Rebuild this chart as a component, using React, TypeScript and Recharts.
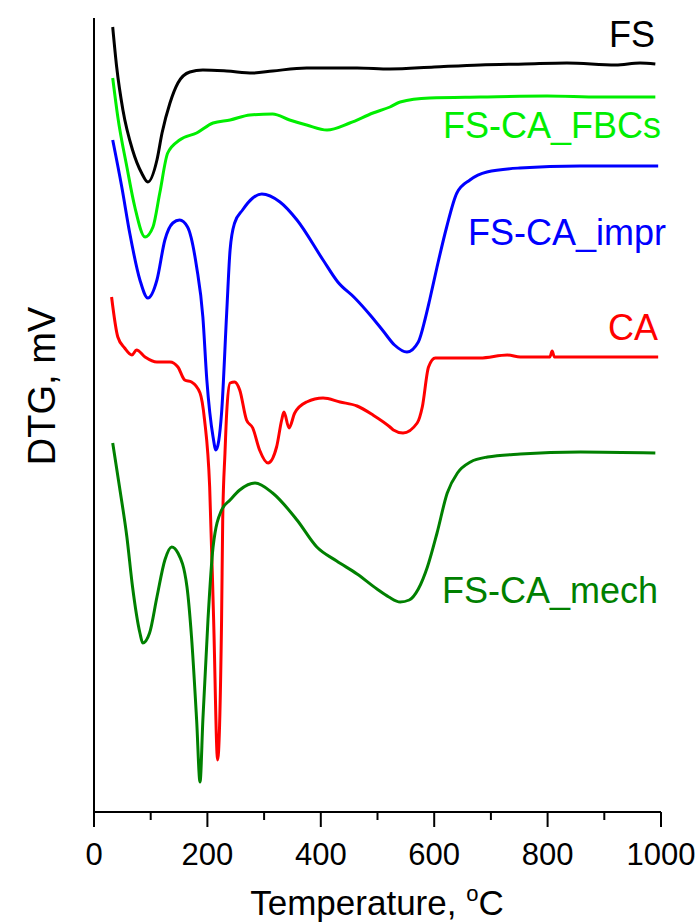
import React from 'react';
import { LineChart, Line, XAxis, YAxis, ReferenceLine } from 'recharts';

// temperature in °C, DTG in arbitrary offset units (curves are stacked)
const fsData = [
  { t: 33, v: 785 }, { t: 40, v: 745 }, { t: 51, v: 702 }, { t: 68, v: 662 },
  { t: 84, v: 639 }, { t: 95, v: 630 }, { t: 111, v: 652 }, { t: 120, v: 679 },
  { t: 134, v: 709 }, { t: 148, v: 729 }, { t: 169, v: 740 }, { t: 192, v: 742 },
  { t: 234, v: 741 }, { t: 280, v: 739 }, { t: 315, v: 741 }, { t: 375, v: 744 },
  { t: 464, v: 744 }, { t: 522, v: 743 }, { t: 600, v: 745 }, { t: 681, v: 747 },
  { t: 760, v: 748 }, { t: 834, v: 749 }, { t: 920, v: 747 }, { t: 963, v: 749 },
  { t: 990, v: 748 },
];

const fbcsData = [
  { t: 33, v: 734 }, { t: 42, v: 695 }, { t: 58, v: 645 }, { t: 72, v: 605 },
  { t: 90, v: 575 }, { t: 104, v: 585 }, { t: 116, v: 619 }, { t: 130, v: 659 },
  { t: 151, v: 672 }, { t: 181, v: 679 }, { t: 210, v: 689 }, { t: 240, v: 692 },
  { t: 275, v: 697 }, { t: 315, v: 698 }, { t: 345, v: 692 }, { t: 375, v: 687 },
  { t: 411, v: 682 }, { t: 451, v: 689 }, { t: 492, v: 699 }, { t: 522, v: 705 },
  { t: 540, v: 710 }, { t: 592, v: 714 }, { t: 681, v: 715 }, { t: 799, v: 716 },
  { t: 892, v: 715 }, { t: 990, v: 715 },
];

const imprData = [
  { t: 33, v: 672 }, { t: 49, v: 625 }, { t: 63, v: 579 }, { t: 81, v: 532 },
  { t: 95, v: 514 }, { t: 111, v: 532 }, { t: 125, v: 572 }, { t: 139, v: 589 },
  { t: 151, v: 592 }, { t: 165, v: 585 }, { t: 181, v: 545 }, { t: 192, v: 495 },
  { t: 199, v: 432 }, { t: 210, v: 375 }, { t: 215, v: 362 }, { t: 225, v: 399 },
  { t: 234, v: 499 }, { t: 240, v: 562 }, { t: 248, v: 589 }, { t: 262, v: 602 },
  { t: 280, v: 614 }, { t: 296, v: 618 }, { t: 328, v: 610 }, { t: 358, v: 592 },
  { t: 404, v: 552 }, { t: 430, v: 530 }, { t: 460, v: 514 }, { t: 487, v: 497 },
  { t: 510, v: 481 }, { t: 530, v: 467 }, { t: 552, v: 460 }, { t: 572, v: 470 },
  { t: 584, v: 493 }, { t: 592, v: 512 }, { t: 605, v: 545 }, { t: 622, v: 585 },
  { t: 640, v: 619 }, { t: 663, v: 632 }, { t: 693, v: 640 }, { t: 751, v: 644 },
  { t: 857, v: 646 }, { t: 995, v: 646 },
];

const caData = [
  { t: 31, v: 515 }, { t: 42, v: 475 }, { t: 54, v: 464 }, { t: 67, v: 457 },
  { t: 75, v: 462 }, { t: 90, v: 455 }, { t: 111, v: 450 }, { t: 134, v: 450 },
  { t: 148, v: 445 }, { t: 160, v: 432 }, { t: 172, v: 430 }, { t: 187, v: 419 },
  { t: 195, v: 392 }, { t: 204, v: 325 }, { t: 211, v: 192 }, { t: 218, v: 52 },
  { t: 225, v: 192 }, { t: 227, v: 292 }, { t: 231, v: 359 }, { t: 234, v: 399 },
  { t: 240, v: 429 }, { t: 248, v: 430 }, { t: 257, v: 422 }, { t: 269, v: 392 },
  { t: 280, v: 384 }, { t: 292, v: 362 }, { t: 307, v: 349 }, { t: 322, v: 365 },
  { t: 331, v: 392 }, { t: 335, v: 400 }, { t: 344, v: 384 }, { t: 354, v: 399 },
  { t: 375, v: 410 }, { t: 404, v: 414 }, { t: 434, v: 410 }, { t: 464, v: 406 },
  { t: 492, v: 397 }, { t: 522, v: 385 }, { t: 528, v: 382 }, { t: 545, v: 379 },
  { t: 570, v: 389 }, { t: 579, v: 405 }, { t: 590, v: 445 }, { t: 602, v: 454 },
  { t: 681, v: 454 }, { t: 729, v: 457 }, { t: 752, v: 455 }, { t: 804, v: 455 },
  { t: 808, v: 461 }, { t: 812, v: 455 }, { t: 916, v: 455 }, { t: 995, v: 455 },
];

const mechData = [
  { t: 33, v: 369 }, { t: 45, v: 325 }, { t: 58, v: 275 }, { t: 68, v: 225 },
  { t: 81, v: 179 }, { t: 86, v: 169 }, { t: 98, v: 179 }, { t: 111, v: 215 },
  { t: 125, v: 252 }, { t: 137, v: 265 }, { t: 148, v: 259 }, { t: 164, v: 225 },
  { t: 172, v: 175 }, { t: 181, v: 92 }, { t: 187, v: 30 }, { t: 192, v: 92 },
  { t: 201, v: 192 }, { t: 210, v: 265 }, { t: 225, v: 302 }, { t: 240, v: 312 },
  { t: 257, v: 322 }, { t: 284, v: 329 }, { t: 315, v: 319 }, { t: 358, v: 292 },
  { t: 393, v: 265 }, { t: 428, v: 251 }, { t: 464, v: 238 }, { t: 499, v: 223 },
  { t: 520, v: 215 }, { t: 540, v: 210 }, { t: 556, v: 212 }, { t: 572, v: 223 },
  { t: 588, v: 245 }, { t: 605, v: 279 }, { t: 623, v: 319 }, { t: 641, v: 339 },
  { t: 664, v: 350 }, { t: 694, v: 355 }, { t: 752, v: 358 }, { t: 858, v: 360 },
  { t: 990, v: 359 },
];

const xTicks = [0, 100, 200, 300, 400, 500, 600, 700, 800, 900, 1000];
const labeledTicks = [0, 200, 400, 600, 800, 1000];

const FONT = '"Liberation Sans", Arial, sans-serif';

const XTick = (props: any) => {
  const { x, y, payload } = props;
  const major = labeledTicks.includes(payload.value);
  return (
    <g>
      <line x1={x} y1={y} x2={x} y2={y + (major ? 15 : 8)} stroke="#000" strokeWidth={2} />
      {major && (
        <text x={x} y={y + 53} textAnchor="middle" fontSize={31} fontFamily={FONT} fill="#000">
          {payload.value}
        </text>
      )}
    </g>
  );
};

const series = [
  { name: 'FS', data: fsData, color: '#000000', lx: 655, ly: 47 },
  { name: 'FS-CA_FBCs', data: fbcsData, color: '#00ee00', lx: 661, ly: 138 },
  { name: 'FS-CA_impr', data: imprData, color: '#0000ff', lx: 666, ly: 245 },
  { name: 'CA', data: caData, color: '#ff0000', lx: 658, ly: 340 },
  { name: 'FS-CA_mech', data: mechData, color: '#008000', lx: 658, ly: 603 },
];

export default function App() {
  return (
    <div style={{ position: 'absolute', left: 0, top: 0, background: '#fff' }}>
      <LineChart
        width={696}
        height={922}
        margin={{ top: 18, right: 35, bottom: 0, left: 94 }}
      >
        <XAxis
          dataKey="t"
          type="number"
          domain={[0, 1000]}
          ticks={xTicks}
          allowDuplicatedCategory={false}
          axisLine={{ stroke: '#000', strokeWidth: 2 }}
          tickLine={false}
          tickSize={0}
          tickMargin={0}
          tick={<XTick />}
          height={110}
          interval={0}
        />
        <YAxis type="number" domain={[0, 794]} hide />
        <ReferenceLine x={0} stroke="#000" strokeWidth={2} />
        {series.map((s) => (
          <Line
            key={s.name}
            data={s.data}
            dataKey="v"
            type="monotone"
            stroke={s.color}
            strokeWidth={3}
            dot={false}
            isAnimationActive={false}
          />
        ))}
        {series.map((s) => (
          <text
            key={s.name + '-label'}
            x={s.lx}
            y={s.ly}
            textAnchor="end"
            fontSize={36}
            fontFamily={FONT}
            fill={s.color}
          >
            {s.name}
          </text>
        ))}
        <text x={377} y={915} textAnchor="middle" fontSize={35} fontFamily={FONT} fill="#000">
          Temperature,{' '}
          <tspan dy={-14} fontSize={22}>o</tspan>
          <tspan dy={14}>C</tspan>
        </text>
        <text
          x={55}
          y={386}
          transform="rotate(-90, 55, 386)"
          textAnchor="middle"
          fontSize={38}
          fontFamily={FONT}
          fill="#000"
        >
          DTG, mV
        </text>
      </LineChart>
    </div>
  );
}
